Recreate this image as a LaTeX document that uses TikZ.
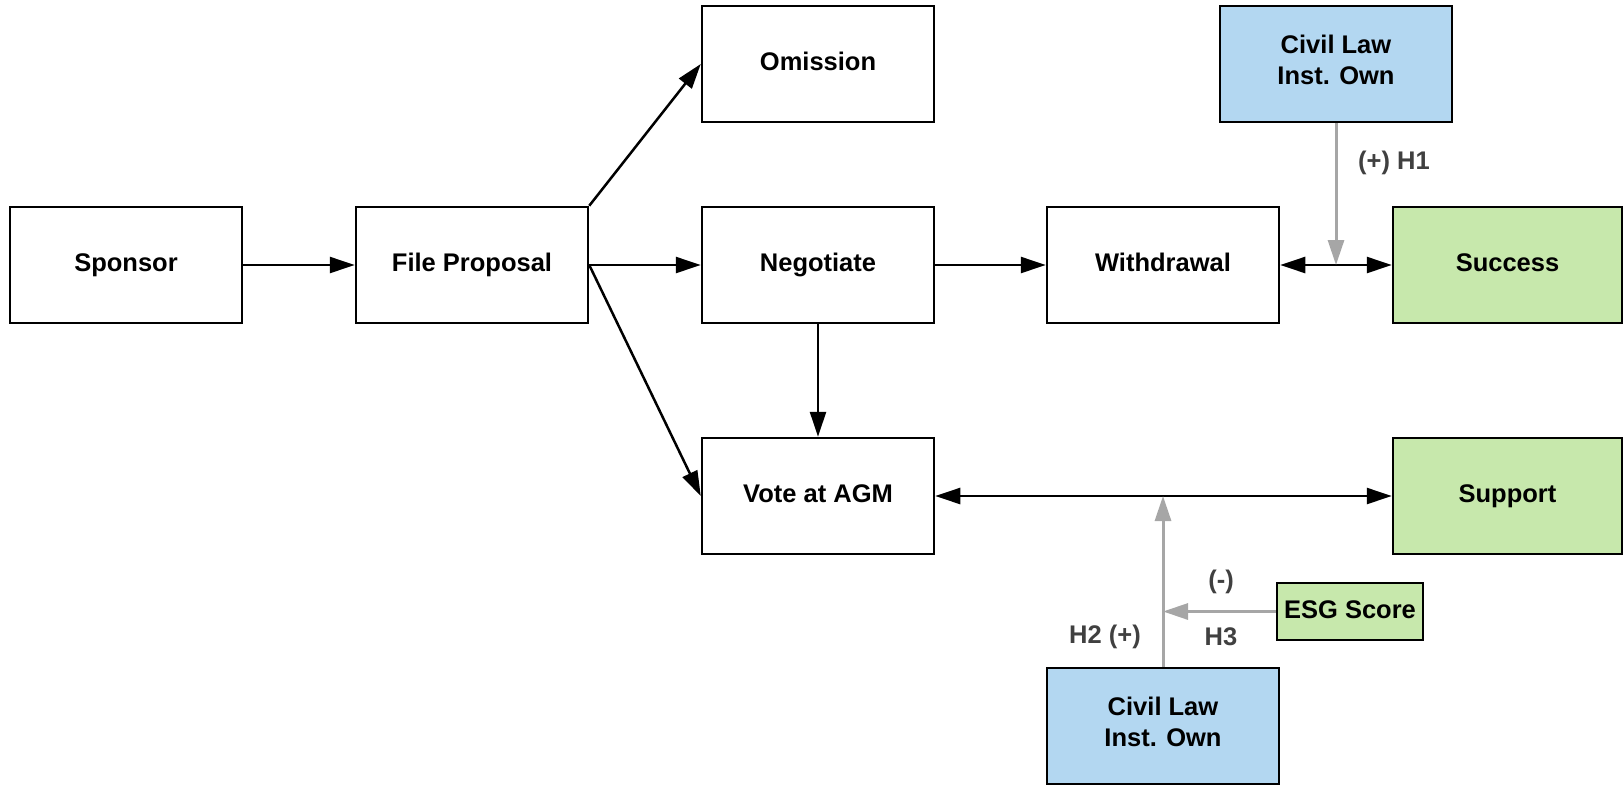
\documentclass[tikz,border=0pt]{standalone}
\usepackage{fontspec}
\setmainfont{Liberation Sans}
\usetikzlibrary{arrows.meta}
\definecolor{boxblue}{HTML}{B3D7F1}
\definecolor{boxgreen}{HTML}{C7E8AC}
\definecolor{modgray}{HTML}{A6A6A6}
\definecolor{labgray}{HTML}{404040}
\tikzset{
  box/.style={draw=black, line width=2.5pt, minimum width=232pt, minimum height=116pt,
    inner sep=0pt, align=center, font=\fontsize{25.5}{31}\selectfont\bfseries},
  oneline/.style={text height=18.4pt, text depth=5.4pt},
  flow/.style={line width=2.5pt, -{Triangle[length=25pt,width=16pt]}},
  biflow/.style={line width=2.5pt, {Triangle[length=25pt,width=16pt]}-{Triangle[length=25pt,width=16pt]}},
  modarrow/.style={draw=modgray, line width=3pt, -{Triangle[length=25pt,width=16pt]}, color=modgray},
  lab/.style={text=labgray, inner sep=0pt, font=\fontsize{25.5}{31}\selectfont\bfseries}
}
\newcommand{\civiltext}{\raisebox{1pt}[\height][\depth]{\begin{tabular}{@{}c@{}}Civil Law\\Inst. Own\end{tabular}}}
\begin{document}
\begin{tikzpicture}[x=1pt,y=-1pt]
\useasboundingbox (0,0) rectangle (1623,785);
\node[box, oneline] (sponsor) at (126,265) {Sponsor};
\node[box, oneline] (file) at (472,265) {File Proposal};
\node[box, oneline] (omission) at (818,64) {Omission};
\node[box, oneline] (negotiate) at (818,265) {Negotiate};
\node[box, oneline] (withdrawal) at (1163,265) {Withdrawal};
\node[box, oneline, fill=boxgreen, minimum width=229pt] (success) at (1507.5,265) {Success};
\node[box, fill=boxblue] (civiltop) at (1336,64) {\civiltext};
\node[box, oneline] (vote) at (818,496) {Vote at AGM};
\node[box, oneline, fill=boxgreen, minimum width=229pt] (support) at (1507.5,496) {Support};
\node[box, oneline, fill=boxgreen, minimum width=146pt, minimum height=57pt] (esg) at (1350,611.5) {ESG Score};
\node[box, fill=boxblue] (civilbot) at (1163,726) {\civiltext};

\coordinate (h1) at (civiltop.south |- success.west);
\coordinate (h2) at (civilbot.north |- vote.east);
\coordinate (h3) at (civilbot.north |- esg.west);

\draw[flow] (sponsor) -- (file);
\draw[flow] (file.north east) -- (omission.west);
\draw[flow] (file.east) -- (negotiate.west);
\draw[flow] (file.east) -- (vote.west);
\draw[flow] (negotiate) -- (withdrawal);
\draw[flow] (negotiate) -- (vote);
\draw[biflow] (withdrawal) -- (success);
\draw[biflow] (vote) -- (support);

\draw[modarrow] (civiltop.south) -- (h1);
\draw[modarrow] (civilbot.north) -- (h2);
\draw[modarrow] (esg.west) -- (h3);

\node[lab] (l1) at (1394,163) {(+) H1};
\node[lab] (l2) at (1105,637) {H2 (+)};
\node[lab] (l3) at (1221,637) {H3};
\node[lab] (l4) at (1221,582) {(-)};
\end{tikzpicture}
\end{document}
